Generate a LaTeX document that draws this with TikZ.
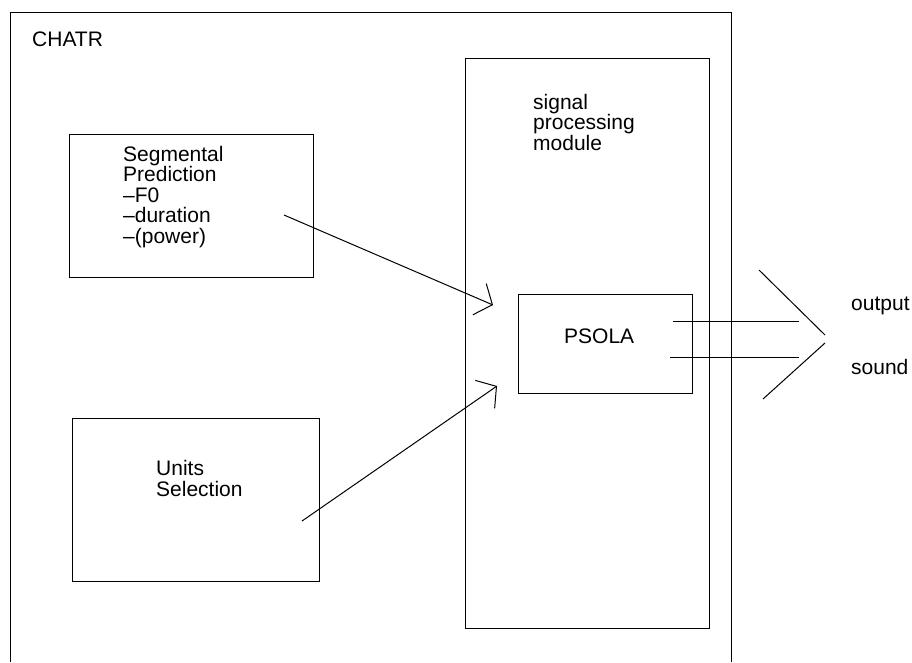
\documentclass[tikz,border=0pt]{standalone}
\usepackage{fontspec}
\setmainfont{Liberation Sans}
\usetikzlibrary{arrows.meta}
\begin{document}
\begin{tikzpicture}[x=1pt,y=-1pt,
  box/.style={draw, line width=1pt, inner sep=0pt},
  lbl/.style={inner sep=0pt, align=left, font=\fontsize{21}{20.5}\selectfont},
  conn/.style={line width=1pt, -{Straight Barb[length=14pt,width=34pt,line width=1pt]}},
  plain/.style={line width=1pt}]
\useasboundingbox (0,0) rectangle (912,662);
% outer CHATR frame (open at the bottom)
\draw[plain] (10,662) -- (10,12) -- (731,12) -- (731,662);
\node[lbl, anchor=base west] (chatr) at (32,46) {CHATR};
% boxes
\node[box, minimum width=244, minimum height=143] (seg) at (191,205.5) {};
\node[box, minimum width=247, minimum height=163] (units) at (195.5,499.5) {};
\node[box, minimum width=244, minimum height=570] (sig) at (587,343) {};
\node[box, minimum width=174, minimum height=99] (psola) at (605,343.5) {};
% texts (base anchor = baseline of the last line)
\node[lbl, anchor=base west] (segtxt) at (123,243) {Segmental\\Prediction\\--F0\\--duration\\--(power)};
\node[lbl, anchor=base west] (unitstxt) at (156,496) {Units\\Selection};
\node[lbl, anchor=base west] (sigtxt) at (533,150) {signal\\processing\\module};
\node[lbl, anchor=base west] (psolatxt) at (564,343) {PSOLA};
\node[lbl, anchor=base west] (outtxt) at (851,310) {output};
\node[lbl, anchor=base west] (soundtxt) at (851,374) {sound};
% connectors
\coordinate (segout) at (284,215);
\coordinate (psin1) at (493,305);
\coordinate (unitsout) at (302,521);
\coordinate (psin2) at (497,386);
\draw[conn] (segout) -- (psin1);
\draw[conn] (unitsout) -- (psin2);
% outputs
\coordinate (o1s) at (673,321);
\coordinate (o1e) at (799,321);
\coordinate (o2s) at (670,357);
\coordinate (o2e) at (799,357);
\draw[plain] (o1s) -- (o1e);
\draw[plain] (o2s) -- (o2e);
% big open chevron
\coordinate (ch1) at (759,270);
\coordinate (ch2) at (825,335);
\coordinate (ch3) at (825,343);
\coordinate (ch4) at (763,399);
\draw[plain] (ch1) -- (ch2);
\draw[plain] (ch3) -- (ch4);
\end{tikzpicture}
\end{document}
